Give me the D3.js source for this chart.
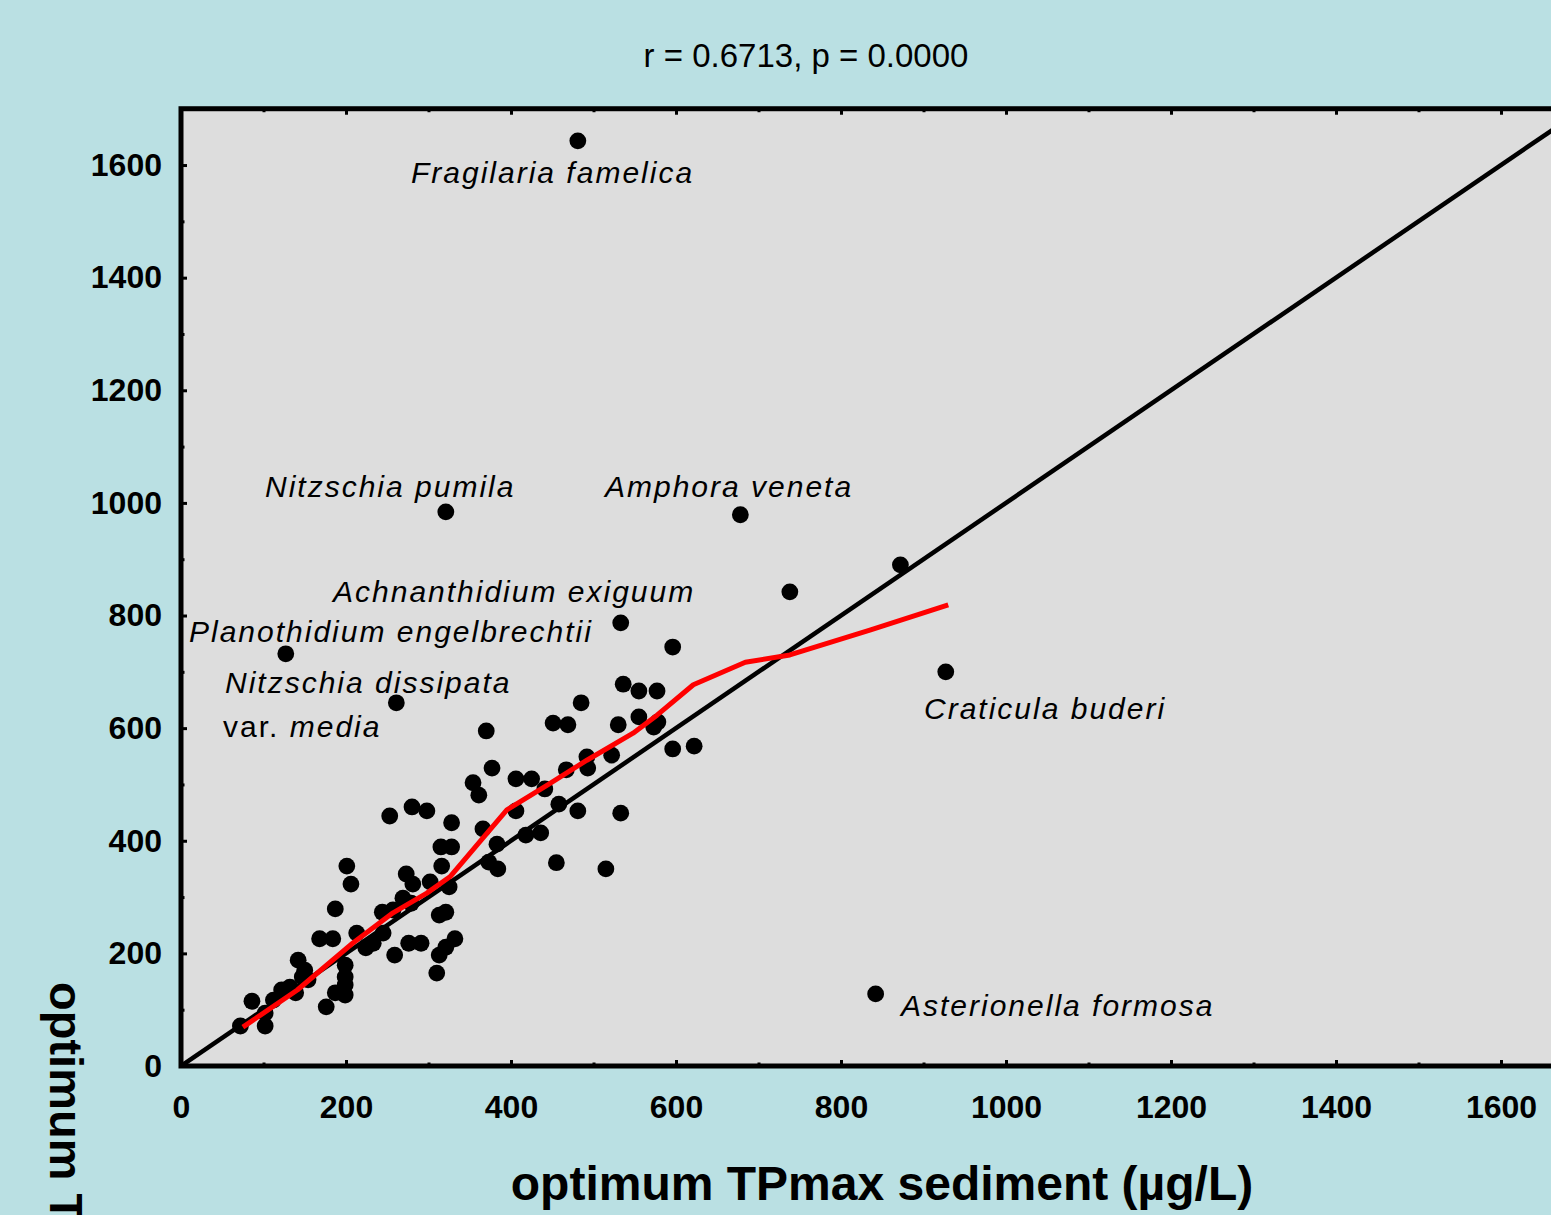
<!DOCTYPE html>
<html>
<head>
<meta charset="utf-8">
<script src="https://cdn.jsdelivr.net/npm/d3@7"></script>
<style>
  html, body { margin: 0; padding: 0; background: #BAE0E3; overflow: hidden; }
  svg { display: block; }
</style>
</head>
<body>
<svg id="chart" width="1551" height="1215"></svg>
<script>
// ---------------- DATA ----------------
const titleText = "r = 0.6713, p = 0.0000";
const xTitle = "optimum TPmax sediment (µg/L)";
const yTitle = "optimum TPmax water (µg/L)";
const tickValues = [0, 200, 400, 600, 800, 1000, 1200, 1400, 1600];
const minorTickValues = [100, 300, 500, 700, 900, 1100, 1300, 1500, 1700];

// optimum TPmax sediment (x)
const xValues = [
  72, 102, 102, 86, 112, 122, 132, 139, 142, 150, 147, 154, 176, 187, 199, 199, 199, 199,
  168, 184, 213, 187, 201, 206, 224, 233, 245, 259, 244, 257, 269, 279, 273, 281, 302, 325,
  276, 291, 313, 321, 313, 321, 332, 310, 316, 315, 328, 328, 253, 280, 298,
  354, 361, 366, 383, 373, 384, 370, 377, 406, 425, 441, 458, 406, 481, 418, 436, 455, 515,
  533, 467, 492, 493, 522, 451, 469, 485, 530, 555, 578, 573, 536, 555, 577, 596, 622, 596, 533,
  481, 321, 678, 872, 738, 127, 261, 927, 842
];
// optimum TPmax water (y)
const yValues = [
  71, 71, 94, 115, 117, 135, 140, 130, 188, 170, 158, 153, 105, 130, 126, 144, 158, 179,
  226, 226, 236, 279, 355, 323, 210, 218, 236, 197, 273, 277, 298, 289, 341, 323, 327, 318,
  218, 218, 268, 273, 197, 211, 226, 165, 355, 389, 389, 432, 444, 460, 453,
  503, 481, 421, 394, 362, 350, 595, 529, 510, 510, 492, 465, 453, 453, 410, 414, 361, 350,
  449, 526, 549, 529, 552, 609, 606, 645, 606, 620, 611, 602, 678, 666, 666, 563, 568, 744, 787,
  1643, 984, 979, 890, 842, 732, 645, 700, 128
];

// LOWESS smooth (red)
const smoothX = [75, 141, 208, 257, 298, 326, 362, 395, 444, 492, 548, 577, 621, 684, 738, 835, 930];
const smoothY = [69, 135, 218, 272, 307, 336, 398, 455, 499, 543, 591, 623, 677, 717, 730, 774, 819];

// 1:1 line
const lineX = [0, 1700];
const lineY = [0, 1700];

// species annotations
const labelNames = [
  "Fragilaria famelica", "Nitzschia pumila", "Amphora veneta", "Achnanthidium exiguum",
  "Planothidium engelbrechtii", "Nitzschia dissipata", "Craticula buderi", "Asterionella formosa"
];

// ---------------- LAYOUT ----------------
const labelLayout = [
  { x: 411, y: 183 }, { x: 265, y: 497 }, { x: 605, y: 497 }, { x: 333, y: 602 },
  { x: 189, y: 642 }, { x: 225, y: 693 }, { x: 924, y: 719 }, { x: 901, y: 1016 }
];
const varLayout = { x: 223, y: 737 };

const svg = d3.select("#chart");
const W = 1551, H = 1215;
const left = 181, bottom = 1066;
const pxPerX = 0.825, pxPerY = 0.5631;
const dom = [0, 1700];

const x = d3.scaleLinear().domain(dom).range([left, left + 1700 * pxPerX]);
const y = d3.scaleLinear().domain(dom).range([bottom, bottom - 1700 * pxPerY]);

svg.append("rect").attr("width", W).attr("height", H).attr("fill", "#BAE0E3");

// plot area
svg.append("rect")
  .attr("x", x(0)).attr("y", y(1700))
  .attr("width", x(1700) - x(0)).attr("height", y(0) - y(1700))
  .attr("fill", "#DDDDDD");

const font = "'Liberation Sans', Arial, Helvetica, sans-serif";

// axes
function styleAxis(g) {
  g.select(".domain").remove();
  g.selectAll(".tick line").attr("stroke", "#000").attr("stroke-width", 3);
  g.selectAll(".tick text")
    .attr("fill", "#000")
    .style("font-family", font)
    .style("font-weight", "bold")
    .style("font-size", "32px");
}

svg.append("g").attr("transform", `translate(0,${y(0)})`)
  .call(d3.axisBottom(x).tickValues(tickValues).tickFormat(d3.format("d")).tickSize(-6).tickPadding(29))
  .call(styleAxis);
svg.append("g").attr("transform", `translate(0,${y(0)})`)
  .call(d3.axisBottom(x).tickValues(minorTickValues).tickFormat("").tickSize(-3.5))
  .call(styleAxis);
svg.append("g").attr("transform", `translate(${x(0)},0)`)
  .call(d3.axisLeft(y).tickValues(tickValues).tickFormat(d3.format("d")).tickSize(-6).tickPadding(19))
  .call(styleAxis);
svg.append("g").attr("transform", `translate(${x(0)},0)`)
  .call(d3.axisLeft(y).tickValues(minorTickValues).tickFormat("").tickSize(-3.5))
  .call(styleAxis);
svg.append("g").attr("transform", `translate(0,${y(1700)})`)
  .call(d3.axisTop(x).tickValues(tickValues).tickFormat("").tickSize(-6))
  .call(styleAxis);
svg.append("g").attr("transform", `translate(0,${y(1700)})`)
  .call(d3.axisTop(x).tickValues(minorTickValues).tickFormat("").tickSize(-3.5))
  .call(styleAxis);
svg.append("g").attr("transform", `translate(${x(1700)},0)`)
  .call(d3.axisRight(y).tickValues(tickValues).tickFormat("").tickSize(-6))
  .call(styleAxis);

// frame
svg.append("rect")
  .attr("x", x(0)).attr("y", y(1700))
  .attr("width", x(1700) - x(0)).attr("height", y(0) - y(1700))
  .attr("fill", "none").attr("stroke", "#000").attr("stroke-width", 5);

// clip for lines
svg.append("clipPath").attr("id", "plotclip").append("rect")
  .attr("x", x(0)).attr("y", y(1700))
  .attr("width", x(1700) - x(0)).attr("height", y(0) - y(1700));

const lineGen = d3.line().x(d => x(d[0])).y(d => y(d[1]));

svg.append("path")
  .datum(d3.zip(lineX, lineY))
  .attr("d", lineGen)
  .attr("clip-path", "url(#plotclip)")
  .attr("fill", "none").attr("stroke", "#000").attr("stroke-width", 4.5);

// points
svg.append("g").selectAll("circle")
  .data(d3.zip(xValues, yValues))
  .join("circle")
  .attr("cx", d => x(d[0])).attr("cy", d => y(d[1]))
  .attr("r", 8.4).attr("fill", "#000");

svg.append("path")
  .datum(d3.zip(smoothX, smoothY))
  .attr("d", lineGen)
  .attr("fill", "none").attr("stroke", "#FF0000").attr("stroke-width", 5)
  .attr("stroke-linejoin", "round");

// species labels
svg.append("g").selectAll("text")
  .data(labelNames)
  .join("text")
  .attr("x", (d, i) => labelLayout[i].x)
  .attr("y", (d, i) => labelLayout[i].y)
  .style("font-family", font)
  .style("font-style", "italic")
  .style("font-size", "30px")
  .style("letter-spacing", "2px")
  .attr("fill", "#000")
  .text(d => d);

const varText = svg.append("text")
  .attr("x", varLayout.x).attr("y", varLayout.y)
  .style("font-family", font)
  .style("font-size", "30px")
  .style("letter-spacing", "2px")
  .attr("fill", "#000");
varText.append("tspan").text("var. ");
varText.append("tspan").style("font-style", "italic").text("media");

// title
svg.append("text")
  .attr("x", 806).attr("y", 67)
  .attr("text-anchor", "middle")
  .style("font-family", font)
  .style("font-size", "33px")
  .attr("fill", "#000")
  .text(titleText);

// x title
svg.append("text")
  .attr("x", 882).attr("y", 1200)
  .attr("text-anchor", "middle")
  .style("font-family", font)
  .style("font-weight", "bold")
  .style("font-size", "48px")
  .attr("fill", "#000")
  .text(xTitle);

// y title (rotated, reading downward; runs off the bottom edge as in the original)
svg.append("text")
  .attr("transform", "translate(50,982) rotate(90)")
  .attr("text-anchor", "start")
  .style("font-family", font)
  .style("font-weight", "bold")
  .style("font-size", "47px")
  .attr("fill", "#000")
  .text(yTitle);
</script>
</body>
</html>
